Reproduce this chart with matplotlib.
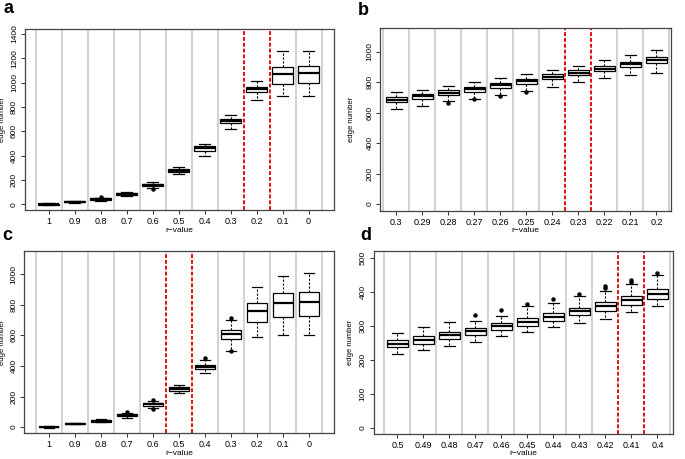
import matplotlib
matplotlib.use("Agg")
import matplotlib.pyplot as plt

plt.rcParams['font.family'] = ['Liberation Sans', 'DejaVu Sans']

# --- Data ---
r_a = ['1', '0.9', '0.8', '0.7', '0.6', '0.5', '0.4', '0.3', '0.2', '0.1', '0']
med_a = [0, 21, 43, 86, 158, 276, 459, 686, 945, 1070, 1075]
q1_a = [-3, 17, 37, 76, 150, 263, 438, 670, 925, 990, 995]
q3_a = [3, 24, 48, 94, 166, 291, 479, 700, 967, 1130, 1135]
lo_a = [-8, 12, 30, 70, 133, 246, 396, 621, 860, 887, 890]
hi_a = [8, 28, 55, 104, 180, 303, 498, 736, 1012, 1257, 1257]
fl_a = [[], [], [57], [], [128], [], [], [], [], [], []]

r_b = ['0.3', '0.29', '0.28', '0.27', '0.26', '0.25', '0.24', '0.23', '0.22', '0.21', '0.2']
med_b = [683, 707, 731, 755, 781, 805, 836, 862, 888, 917, 945]
q1_b = [668, 689, 714, 737, 764, 788, 819, 845, 871, 897, 924]
q3_b = [700, 724, 746, 770, 796, 821, 852, 878, 906, 934, 967]
lo_b = [622, 641, 674, 691, 714, 744, 770, 799, 829, 847, 860]
hi_b = [733, 751, 775, 803, 827, 856, 882, 908, 943, 976, 1013]
fl_b = [[], [], [663], [687], [709], [737], [], [], [], [], []]

r_c = ['1', '0.9', '0.8', '0.7', '0.6', '0.5', '0.4', '0.3', '0.2', '0.1', '0']
med_c = [0, 22, 42, 80, 148, 248, 393, 607, 760, 810, 818]
q1_c = [-2, 20, 36, 71, 137, 237, 379, 578, 690, 722, 725]
q3_c = [2, 24, 48, 88, 157, 259, 406, 633, 814, 880, 886]
lo_c = [-4, 18, 30, 62, 124, 221, 357, 500, 589, 602, 602]
hi_c = [4, 26, 52, 93, 170, 278, 442, 700, 915, 991, 1008]
fl_c = [[], [], [], [100], [120, 175], [], [452], [496, 712], [], [], []]

r_d = ['0.5', '0.49', '0.48', '0.47', '0.46', '0.45', '0.44', '0.43', '0.42', '0.41', '0.4']
med_d = [248, 259, 272, 285, 299, 311, 326, 343, 359, 376, 394]
q1_d = [237, 247, 261, 273, 288, 300, 315, 331, 345, 363, 380]
q3_d = [258, 271, 283, 294, 310, 323, 338, 353, 370, 389, 409]
lo_d = [218, 230, 240, 253, 269, 282, 296, 308, 319, 340, 358]
hi_d = [279, 296, 312, 314, 330, 359, 369, 387, 404, 423, 449]
fl_d = [[], [], [], [333], [348], [364], [379], [395], [412, 419], [431, 436], [456]]

W, H = 685, 459
fig = plt.figure(figsize=(W / 100, H / 100), dpi=100)


def px_axes(left, right, top, bottom):
    return fig.add_axes([left / W, (H - bottom) / H, (right - left) / W, (bottom - top) / H])


def panel(ax, labels, med, q1, q3, lo, hi, fl, red, ylim, yticks, xlim, ylab_px):
    n = len(labels)
    pos = list(range(1, n + 1))
    stats = [dict(med=med[i], q1=q1[i], q3=q3[i], whislo=lo[i], whishi=hi[i], fliers=fl[i])
             for i in range(n)]
    # separators between groups
    for b in range(n + 1):
        xb = b + 0.5
        if xb in red:
            ax.axvline(xb, color='#e01010', lw=1.4, ls=(0, (2, 1)), zorder=1)
        else:
            ax.axvline(xb, color='#cfcfcf', lw=1.3, zorder=0)
    ax.bxp(stats, positions=pos, widths=0.8, capwidths=0.4, patch_artist=True,
           boxprops=dict(facecolor='white', edgecolor='black', lw=0.9),
           whiskerprops=dict(color='black', lw=0.8, ls=(0, (2, 1.5))),
           capprops=dict(color='black', lw=0.9),
           medianprops=dict(color='black', lw=1.6),
           flierprops=dict(marker='o', markerfacecolor='black', markeredgecolor='black',
                           markersize=2.2))
    ax.set_xlim(*xlim)
    ax.set_ylim(*ylim)
    ax.set_xticks(pos)
    ax.set_xticklabels(labels)
    ax.set_yticks(yticks)
    ax.set_yticklabels([str(v) for v in yticks], rotation=90, va='center')
    ax.tick_params(direction='out', length=3, width=0.7, pad=2, color='#333333')
    ax.tick_params(axis='x', labelsize=6.5)
    ax.tick_params(axis='y', labelsize=6)
    for s in ax.spines.values():
        s.set_color('#444444')
        s.set_linewidth(0.9)
    ax.set_xlabel('r\u2212value', fontsize=6, labelpad=0.5)
    ax.set_ylabel('edge number', fontsize=5.5)
    bb = ax.get_position()
    ax.yaxis.set_label_coords((ylab_px / W - bb.x0) / bb.width, 0.5)


ax_a = px_axes(25, 333.5, 29, 210)
panel(ax_a, r_a, med_a, q1_a, q3_a, lo_a, hi_a, fl_a, [8.5, 9.5], (-47, 1440),
      list(range(0, 1401, 200)), (0.095, 11.96), 6.5)

ax_b = px_axes(380.5, 671, 28.3, 210.7)
panel(ax_b, r_b, med_b, q1_b, q3_b, lo_b, hi_b, fl_b, [7.5, 8.5], (-44, 1154),
      list(range(0, 1001, 200)), (0.39, 11.56), 355)

ax_c = px_axes(24.3, 334.3, 250.7, 433.3)
panel(ax_c, r_c, med_c, q1_c, q3_c, lo_c, hi_c, fl_c, [5.5, 6.5], (-41, 1155),
      list(range(0, 1001, 200)), (0.05, 11.97), 6.5)

ax_d = px_axes(373.5, 673.3, 250.7, 433.7)
panel(ax_d, r_d, med_d, q1_d, q3_d, lo_d, hi_d, fl_d, [9.5, 10.5], (-18, 522),
      list(range(0, 501, 100)), (0.08, 11.61), 354)

for lab, x, y in [('a', 3, 13), ('b', 358, 15), ('c', 2, 240), ('d', 360, 240)]:
    fig.text(x / W, 1 - y / H, lab, fontsize=13, fontweight='bold', va='baseline', ha='left')

fig.savefig('out.png', dpi=100)
